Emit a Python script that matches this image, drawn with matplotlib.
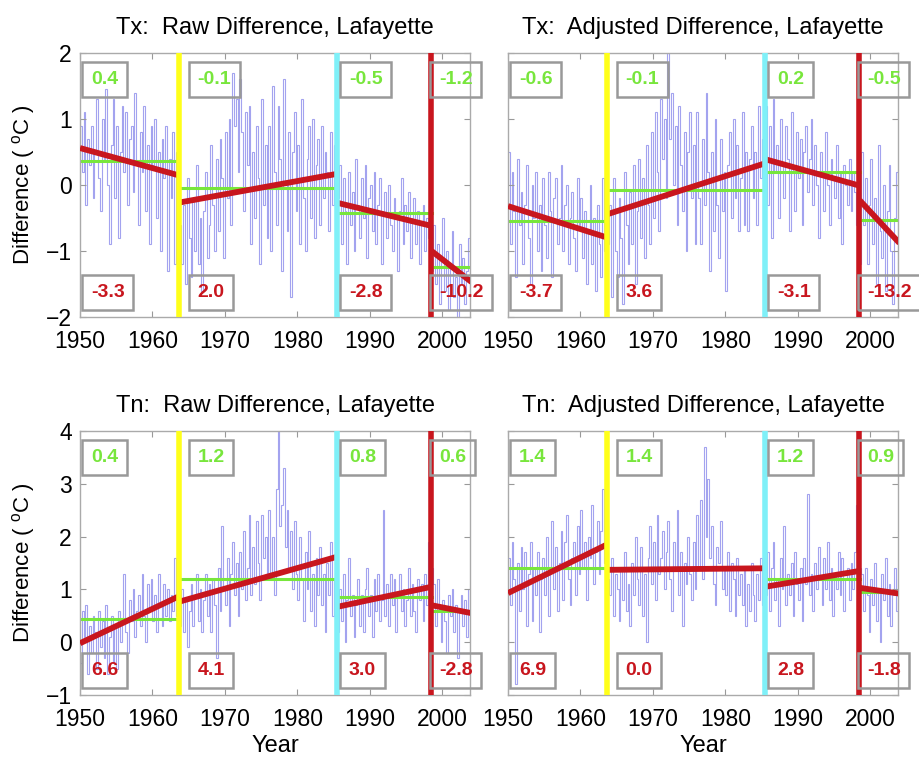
import matplotlib
matplotlib.use('Agg')
import matplotlib.pyplot as plt
import numpy as np

plt.rcParams['font.family'] = ['Liberation Sans', 'DejaVu Sans']
plt.rcParams['mathtext.fontset'] = 'custom'
plt.rcParams['mathtext.rm'] = 'Liberation Sans'

# quarterly differences, one row per year 1950..2003
tx_raw = [
    0.9, 0.2, 1.1, -0.3,
    0.7, 0.3, 0.9, -0.2,
    0.5, 1.3, 0.1, -0.4,
    1.0, 0.4, 1.45, 0.0,
    -0.9, 0.6, 1.3, -0.2,
    0.9, -0.8, 0.5, 1.2,
    0.2, 1.1, -0.3, 0.7,
    0.9, -0.1, 1.4, 0.3,
    -0.6, 0.8, 0.2, 1.2,
    -0.4, 0.6, -0.9, 0.9,
    0.3, 1.0, -0.5, 0.5,
    -1.0, 0.7, 0.1, 0.9,
    -1.3, 0.4, -0.2, 0.8,
    -1.2, 0.5, -0.3, -0.6,
    -1.2, -0.3, -1.5, 0.1,
    -0.8, -1.4, -0.2, -1.0,
    0.3, -1.2, -0.5, -1.6,
    -0.4, 0.2, -1.1, -0.6,
    0.6, -0.3, -1.0, 0.4,
    -0.7, 0.7, 0.1, -1.1,
    0.8, -0.2, 1.0, -0.6,
    1.7, 0.9, 1.3, 0.2,
    1.6, 0.8, -0.4, 1.1,
    0.3, 1.2, -0.9, 0.5,
    -0.5, 0.9, 0.1, -1.2,
    1.3, -0.3, 0.6, -0.8,
    0.9, -1.0, 1.5, 0.2,
    -0.6, 1.2, 0.4, -1.3,
    1.6, 0.0, -0.7, 0.8,
    -1.7, 0.5, 1.1, -0.4,
    0.6, -0.9, 1.3, -0.2,
    -1.0, 0.4, 0.9, -0.5,
    1.0, -0.8, 0.3, 0.7,
    -0.6, 0.9, -0.2, 0.5,
    0.2, -0.7, 0.8, -0.3,
    0.6, 0.1, -0.2, 0.3,
    -0.9, 0.1, -0.4, -1.2,
    0.2, -0.6, -0.1, -1.0,
    0.4, -0.3, -0.8, 0.1,
    -0.5, 0.3, -1.1, -0.2,
    0.0, -0.7, 0.2, -0.9,
    -0.3, 0.1, -1.2, -0.4,
    -0.1, -0.8, 0.0, -0.6,
    -1.0, -0.2, -0.5, -1.3,
    -0.4, 0.1, -0.9, -0.3,
    -0.7, -0.1, -1.1, -0.5,
    -0.2, -0.9, -0.4, -1.2,
    -0.6, -0.3, -1.0, -0.5,
    -0.8, -0.1, -1.3, -0.6,
    -1.5, -0.9, -1.8, -1.1,
    -0.5, -1.6, -1.0, -1.9,
    -1.2, -0.7, -1.7, -1.4,
    -2.0, -0.9, -1.5, -1.1,
    -1.8, -1.3, -0.8, -1.6,
]

tx_adj = [
    0.5, -0.9, 0.2, -0.4,
    -1.4, 0.4, -0.6, -0.1,
    -1.2, -0.3, 0.3, -0.8,
    -1.5, 0.0, -0.5, 0.2,
    -1.0, -0.3, -1.3, 0.1,
    -0.6, -1.1, 0.2, -0.4,
    -1.4, -0.2, 0.1, -0.9,
    -0.5, 0.3, -1.0, -0.3,
    0.0, -1.2, -0.5, -0.1,
    -0.8, -1.3, 0.1, -0.6,
    -0.2, -1.1, -0.4, -1.5,
    -0.7, 0.0, -1.2, -0.5,
    -1.6, -0.3, -0.9, -1.4,
    0.1, -1.0, -0.6, -0.9,
    -0.3, -1.7, 0.1, -1.0,
    -1.4, -0.2, -0.8, -1.8,
    0.2, -0.6, -1.2, -0.1,
    -0.9, 0.3, -1.5, -0.4,
    0.4, -0.8, 0.1, -1.1,
    0.6, -0.3, -0.9, 0.8,
    -0.5, 1.1, 0.2, -0.7,
    1.3, 0.4, 1.0, -0.2,
    2.0, 0.7, 1.4, 0.0,
    0.9, -0.6, 1.2, 0.3,
    -0.4, 0.8, -1.0, 0.5,
    1.1, -0.2, 0.6, -0.9,
    1.1, -0.2, -0.9, 0.7,
    -0.3, 1.4, 0.2, -1.3,
    0.5, -0.7, 1.0, -0.3,
    -1.1, 0.7, -0.4, 0.2,
    -1.6, 0.3, 0.8, -0.5,
    1.0, -0.2, 0.6, -0.7,
    0.1, 1.1, -0.6, 0.5,
    -0.7, 0.4, 0.9, -0.2,
    0.5, -0.6, 1.2, 0.1,
    0.7, 1.0, 1.2, -0.3,
    0.9, -0.8, 1.3, 0.2,
    0.6, -0.5, 1.0, 0.3,
    -0.2, 0.9, 0.4, -0.7,
    1.1, 0.2, -0.4, 0.8,
    0.1, 0.7, -0.6, 0.5,
    0.9, -0.1, 0.4, 1.0,
    -0.3, 0.6, 0.0, -0.8,
    0.5, 0.2, -0.4, 0.8,
    0.0, -0.6, 0.4, 0.1,
    -0.2, 0.6, -0.5, 0.2,
    -0.9, 0.3, 0.0, -0.3,
    0.4, -0.4, 0.2, -0.1,
    -0.6, 0.3, -1.2, 0.5,
    -0.6, 0.1, -1.2, -0.3,
    0.4, -0.9, -0.2, -1.5,
    0.6, -0.7, -1.1, 0.0,
    -1.6, -0.4, 0.3, -1.0,
    -1.8, -0.5, 0.2, -1.3,
]

tn_raw = [
    -0.4, 0.6, 0.1, 0.7,
    -0.6, 0.3, -0.2, 0.5,
    0.2, -0.5, 0.6, -0.1,
    0.4, -0.3, 0.7, -0.6,
    0.1, 0.5, -0.4, 0.3,
    -0.5, 0.6, 0.0, 0.4,
    1.3, 0.2, -0.2, 0.8,
    0.4, 1.0, 0.1, 0.6,
    0.9, 0.3, 1.3, 0.5,
    0.0, 1.1, 0.6, 1.2,
    0.4, 0.9, 0.2, 1.3,
    0.7, 0.3, 1.1, 0.5,
    1.0, 0.4, 0.9, 0.6,
    1.6, 0.5, 0.9, 0.3,
    1.0, 0.2, 0.8, -0.1,
    0.6, 1.1, 0.3, 0.9,
    1.3, 0.4, 1.0, 0.2,
    0.8, 1.3, 0.5, 1.1,
    0.2, 1.2, 0.7, -0.3,
    1.4, 0.6, 2.2, 1.0,
    0.7, 1.6, 0.3, 1.3,
    1.9, 0.9, 1.5, 0.5,
    1.7, 1.0, 2.1, 0.8,
    1.4, 2.4, 0.9, 1.8,
    1.1, 2.3, 1.5, 0.8,
    2.4, 1.6, 2.0, 1.2,
    2.5, 1.3, 2.0, 0.9,
    2.9, 4.0, 2.2, 2.6,
    3.3, 1.8, 2.5, 1.4,
    2.1, 1.0, 2.3, 1.3,
    0.8, 2.0, 1.2, 0.4,
    1.7, 1.0, 2.1, 0.6,
    1.3, 0.3, 1.6, 0.9,
    1.8, 0.7, 1.3, 0.2,
    1.5, 0.9, 1.9, 0.5,
    1.2, 0.1, 0.2, 1.0,
    0.4, 1.3, 0.0, 0.8,
    1.6, 0.5, 0.9, 0.1,
    0.7, 1.2, 0.3, 0.9,
    0.2, 1.0, 1.4, 0.5,
    0.9, 0.1, 1.2, 0.6,
    1.3, 0.4, 0.8, 2.5,
    0.5, 1.1, 0.3, 1.3,
    0.7, 1.2, 0.2, 0.9,
    1.3, 0.6, 1.0, 0.3,
    0.8, 1.4, 0.5, 1.1,
    0.6, 0.2, 1.2, 0.8,
    1.1, 0.4, 1.3, 0.7,
    1.9, 0.9, 1.4, 1.1,
    0.3, 1.2, 0.6, 0.0,
    0.8, 0.4, -0.2, 0.9,
    0.5, 1.0, 0.2, 0.7,
    -0.3, 0.6, 0.9, 0.3,
    0.8, 0.1, 1.0, 0.4,
]

tn_adj = [
    1.6, 0.7, 1.9, 1.2,
    -0.8, 1.5, 0.6, 1.8,
    1.0, 1.7, 0.3, 1.3,
    1.9, 0.4, 1.4, 0.9,
    1.7, 0.2, 1.2, 1.6,
    0.9, 2.0, 0.5, 1.4,
    2.3, 1.0, 1.8, 0.6,
    1.5, 2.1, 0.8, 1.9,
    2.4, 1.2, 0.7, 1.6,
    1.9, 0.9, 2.2, 1.3,
    2.5, 1.4, 1.9, 0.8,
    2.0, 1.6, 2.6, 1.1,
    1.7, 2.3, 1.3, 2.1,
    2.9, 1.5, 2.2, 1.2,
    0.9, 1.6, 0.5, 1.3,
    1.0, 0.4, 1.4, 0.8,
    1.7, 0.6, 1.1, 0.3,
    1.5, 0.9, 2.0, 1.2,
    0.7, 1.8, 0.5, 1.3,
    0.0, 1.6, 2.2, 1.1,
    1.9, 0.8, 2.4, 1.3,
    1.6, 2.1, 1.0, 1.7,
    2.3, 1.2, 0.6, 1.9,
    1.4, 2.5, 0.9, 1.7,
    0.3, 1.5, 1.1, 2.0,
    1.3, 0.8, 1.9, 1.0,
    2.4, 1.4, 2.7, 1.2,
    3.7, 2.0, 3.1, 1.6,
    2.2, 1.1, 0.7, 1.8,
    1.5, 2.3, 1.0, 1.4,
    0.9, 1.7, 0.6, 1.5,
    1.2, 0.5, 1.6, 0.9,
    1.3, 0.7, 1.4, 0.3,
    1.1, 0.6, 1.5, 0.9,
    0.4, 1.3, 0.8, 1.6,
    0.7, 1.9, 0.9, 1.7,
    0.6, 1.4, 1.9, 0.8,
    1.2, 0.3, 1.6, 1.0,
    2.2, 0.7, 1.3, 0.9,
    1.5, 0.5, 1.7, 1.1,
    0.8, 1.4, 0.4, 1.6,
    1.1, 2.8, 0.9, 1.3,
    0.6, 1.5, 1.0, 1.8,
    1.2, 0.7, 1.6, 1.0,
    1.9, 0.8, 1.4, 0.5,
    1.3, 1.0, 1.7, 0.9,
    1.6, 0.6, 1.2, 1.4,
    0.8, 1.5, 1.0, 1.7,
    2.6, 1.1, 1.4, 1.3,
    0.6, 1.4, 0.9, 0.2,
    1.2, 0.7, 1.5, 0.4,
    1.0, 0.0, 1.3, 0.8,
    1.6, 0.5, 1.1, 0.3,
    0.9, 1.4, 0.6, 1.2,
]

# segment limits and breakpoints
seg_edges = [1950.0, 1963.5, 1985.5, 1998.5, 2004.0]
breaks = [1963.6, 1985.4, 1998.4]

# segment means (green) and fitted trend start/end (red)
tx_raw_mean = [0.36, -0.04, -0.43, -1.24]
tx_raw_trend = [(0.56, 0.15), (-0.27, 0.17), (-0.27, -0.62), (-1.0, -1.47)]
tx_adj_mean = [-0.55, -0.07, 0.19, -0.53]
tx_adj_trend = [(-0.32, -0.79), (-0.45, 0.33), (0.39, -0.01), (-0.23, -0.88)]
tn_raw_mean = [0.44, 1.2, 0.86, 0.6]
tn_raw_trend = [(-0.02, 0.86), (0.76, 1.62), (0.67, 1.05), (0.7, 0.55)]
tn_adj_mean = [1.4, 1.4, 1.2, 0.95]
tn_adj_trend = [(0.93, 1.84), (1.37, 1.4), (1.05, 1.35), (1.03, 0.92)]

# box labels
tx_raw_top = ['0.4', '-0.1', '-0.5', '-1.2']
tx_raw_bot = ['-3.3', '2.0', '-2.8', '-10.2']
tx_adj_top = ['-0.6', '-0.1', '0.2', '-0.5']
tx_adj_bot = ['-3.7', '3.6', '-3.1', '-13.2']
tn_raw_top = ['0.4', '1.2', '0.8', '0.6']
tn_raw_bot = ['6.6', '4.1', '3.0', '-2.8']
tn_adj_top = ['1.4', '1.4', '1.2', '0.9']
tn_adj_bot = ['6.9', '0.0', '2.8', '-1.8']

titles = ['Tx:  Raw Difference, Lafayette', 'Tx:  Adjusted Difference, Lafayette',
          'Tn:  Raw Difference, Lafayette', 'Tn:  Adjusted Difference, Lafayette']

SERIES = '#a3a3ef'
GREEN = '#78e63c'
RED = '#c8161e'
break_colors = ['#ffff1a', '#7ff0f8', '#c8161e']
label_x = [1951.5, 1966.2, 1987.1, 1999.5]

fig = plt.figure(figsize=(9.19, 7.57), dpi=100)
W, H = 919, 757
rects = [(80, 53), (508, 53), (80, 431), (508, 431)]

panels = [
    (tx_raw, tx_raw_mean, tx_raw_trend, tx_raw_top, tx_raw_bot, (-2, 2)),
    (tx_adj, tx_adj_mean, tx_adj_trend, tx_adj_top, tx_adj_bot, (-2, 2)),
    (tn_raw, tn_raw_mean, tn_raw_trend, tn_raw_top, tn_raw_bot, (-1, 4)),
    (tn_adj, tn_adj_mean, tn_adj_trend, tn_adj_top, tn_adj_bot, (-1, 4)),
]

edges = np.append(np.arange(1950, 2004, 0.25), 2004.0)

for i, (vals, means, trends, top, bot, ylim) in enumerate(panels):
    x0, y0 = rects[i]
    ax = fig.add_axes([x0 / W, 1 - (y0 + 264) / H, 390 / W, 264 / H])
    ax.stairs(vals, edges, color=SERIES, lw=0.8, zorder=1)
    for k in range(4):
        xs = [seg_edges[k], seg_edges[k + 1]]
        ax.plot(xs, [means[k], means[k]], color=GREEN, lw=2.2, zorder=2)
        ax.plot(xs, trends[k], color=RED, lw=4.2, zorder=3,
                solid_capstyle='butt')
    for b, c in zip(breaks, break_colors):
        ax.axvline(b, color=c, lw=4, zorder=4)
    for k in range(4):
        ax.text(label_x[k], 0.9, top[k], transform=ax.get_xaxis_transform(),
                color=GREEN, fontsize=14, fontweight='bold', ha='left', va='center',
                zorder=5, bbox=dict(boxstyle='square,pad=0.45', fc='none',
                                    ec='#999999', lw=1.8))
        ax.text(label_x[k], 0.092, bot[k], transform=ax.get_xaxis_transform(),
                color=RED, fontsize=14, fontweight='bold', ha='left', va='center',
                zorder=5, bbox=dict(boxstyle='square,pad=0.45', fc='none',
                                    ec='#999999', lw=1.8))
    ax.set_xlim(1950, 2003.8)
    ax.set_ylim(*ylim)
    ax.set_xticks([1950, 1960, 1970, 1980, 1990, 2000])
    ax.set_yticks(range(ylim[0], ylim[1] + 1))
    ax.tick_params(direction='in', top=True, right=True, color='#999999',
                   length=4, labelsize=16.5)
    ax.tick_params(axis='x', pad=9)
    ax.tick_params(axis='y', pad=6)
    for s in ax.spines.values():
        s.set_color('#aaaaaa')
        s.set_linewidth(1.0)
    ax.set_title(titles[i], fontsize=17, pad=14)
    if i % 2 == 0:
        ax.set_ylabel('Difference ( $^{\\mathrm{o}}$C )', fontsize=16, labelpad=6)
    else:
        ax.set_yticklabels([])
    if i >= 2:
        ax.set_xlabel('Year', fontsize=17, labelpad=3)

fig.savefig('out.png', dpi=100)
